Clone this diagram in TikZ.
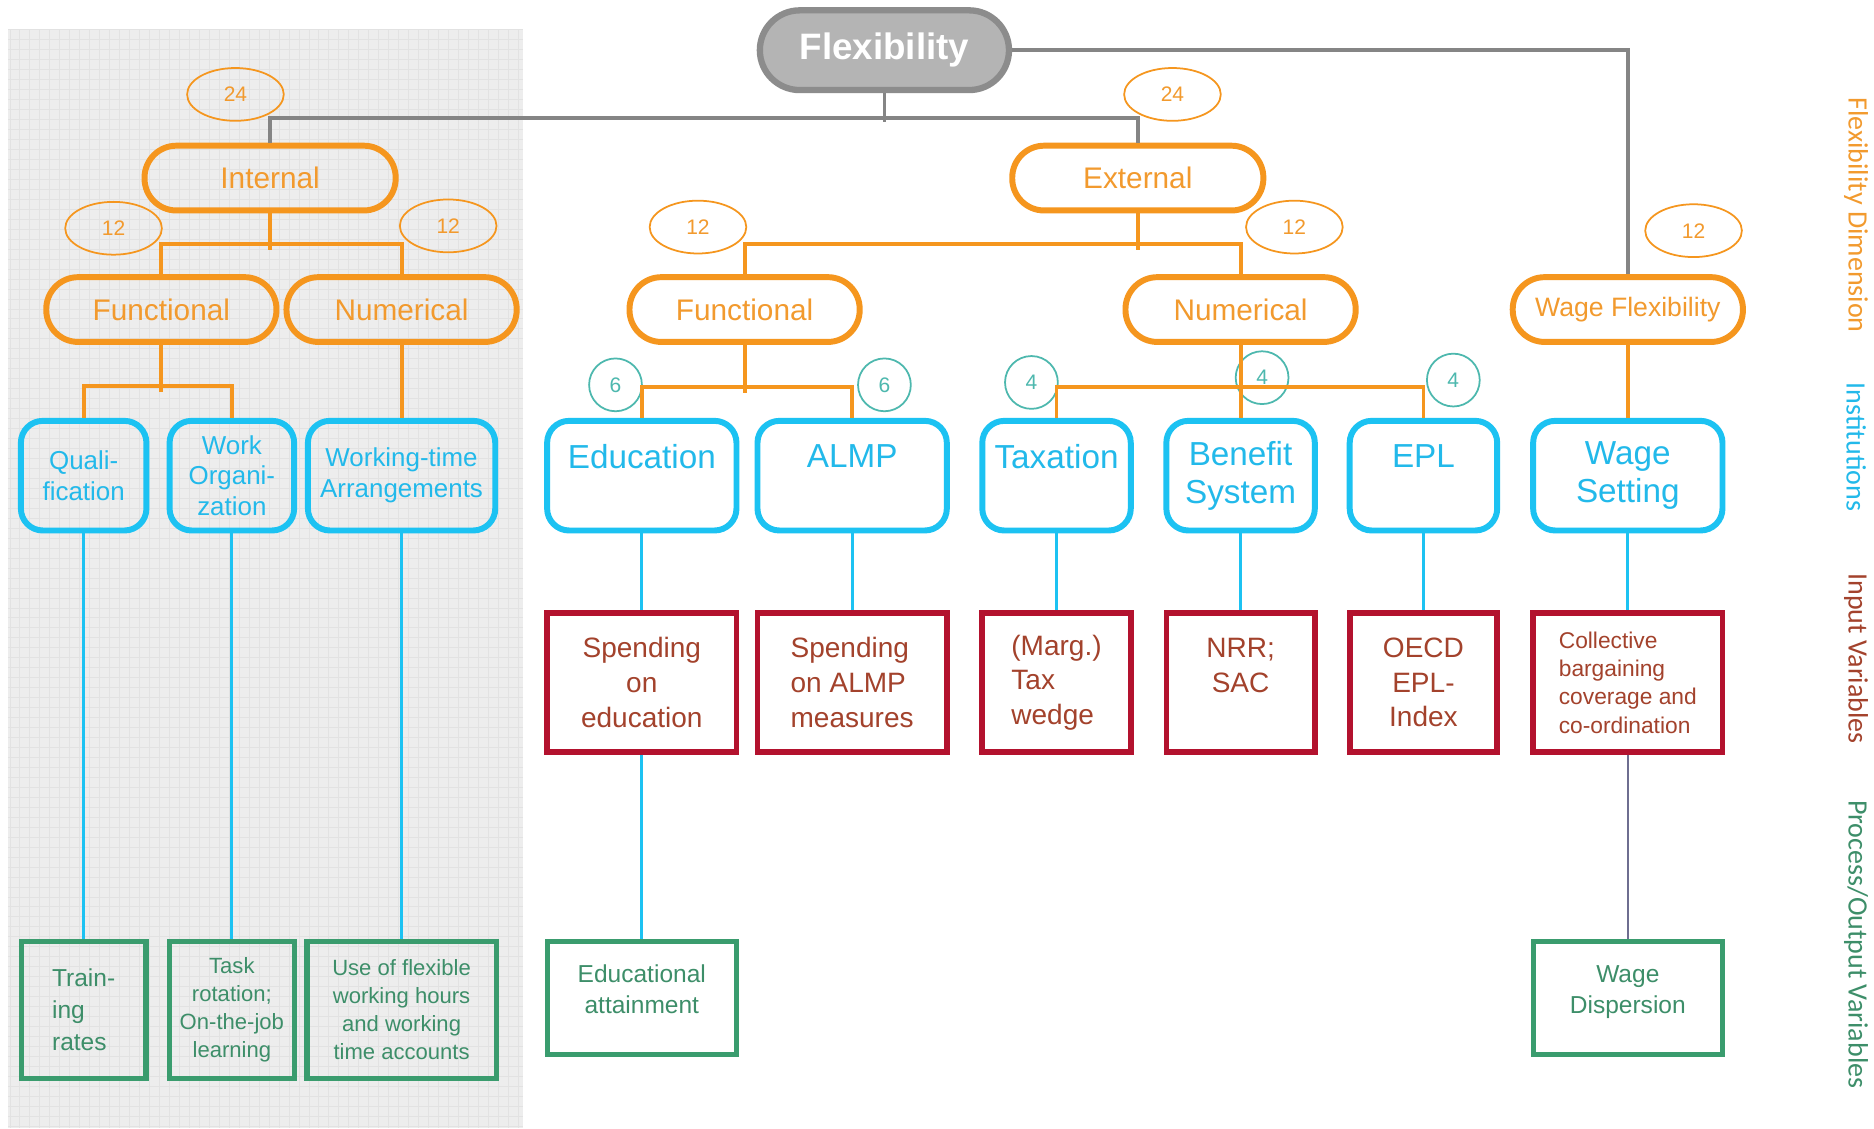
\documentclass[tikz,border=0pt]{standalone}
\usepackage{fontspec}
\setmainfont{Liberation Sans}
\newfontfamily\sidefont{Carlito}
\usetikzlibrary{positioning,shapes.geometric}

\definecolor{dimorange}{HTML}{F5961E}
\definecolor{dimtext}{HTML}{F29A2E}
\definecolor{instblue}{HTML}{1CC2F2}
\definecolor{insttext}{HTML}{22B9EA}
\definecolor{inpred}{HTML}{B3122E}
\definecolor{inptext}{HTML}{A3422C}
\definecolor{outgreen}{HTML}{3A9C6E}
\definecolor{outtext}{HTML}{3D8E69}
\definecolor{weightteal}{HTML}{4DB8AE}
\definecolor{rootfill}{HTML}{B4B4B4}
\definecolor{rootdraw}{HTML}{8C8C8C}
\definecolor{rootline}{HTML}{858585}
\definecolor{procline}{HTML}{6E6E90}
\definecolor{shadebg}{HTML}{EDEDED}
\definecolor{shadegrid}{HTML}{E2E2E2}

\newcommand{\fsz}[2]{\fontsize{#1}{#2}\selectfont}

\begin{document}
\begin{tikzpicture}[
    x=0.012cm, y=-0.012cm,
    every node/.style={align=center, inner sep=1pt},
    root/.style={draw=rootdraw, fill=rootfill, line width=1.8pt, rounded corners=0.4cm, minimum width=2.5cm, minimum height=0.8cm, text=white, font=\fsz{10.5}{12}\bfseries},
    dimension/.style={draw=dimorange, line width=1.7pt, rounded corners=0.32cm, minimum width=2.31cm, minimum height=0.65cm, text=dimtext, font=\fsz{8.5}{10}},
    institution/.style={draw=instblue, line width=1.7pt, rounded corners=0.22cm, minimum width=1.9cm, minimum height=1.1cm, text=insttext, font=\fsz{9.5}{11}},
    smallinst/.style={institution, font=\fsz{7.4}{8.8}},
    input/.style={draw=inpred, line width=1.6pt, minimum width=1.9cm, minimum height=1.39cm, text=inptext, font=\fsz{8}{9.9}},
    output/.style={draw=outgreen, line width=1.5pt, minimum width=1.9cm, minimum height=1.13cm, text=outtext, font=\fsz{7}{8.8}},
    weight/.style={ellipse, draw=dimorange, line width=0.5pt, minimum width=0.97cm, minimum height=0.53cm, text=dimtext, font=\fsz{6}{7}, inner sep=0pt},
    share/.style={circle, draw=weightteal, line width=0.5pt, minimum size=0.53cm, text=weightteal, font=\fsz{6}{7}, inner sep=0pt},
    side/.style={rotate=-90, font=\sidefont\fsz{8}{9}},
    rootlink/.style={draw=rootline, line width=1.1pt},
    dimlink/.style={draw=dimorange, line width=1.1pt},
    instlink/.style={draw=instblue, line width=0.9pt},
    proclink/.style={draw=procline, line width=0.6pt}
  ]

  \fill[white] (0,0) rectangle (1568,944);
  \useasboundingbox (0,0) rectangle (1568,944);

  % internal flexibility shaded
  \fill[shadebg] (7,25) rectangle (438,944);
  \draw[shadegrid, line width=0.25pt, step=0.1cm] (7,25) grid (438,944);

  % flexibility dimensions
  \node[root] (flex) at (740,42) {Flexibility};
  \node[dimension, minimum width=2.52cm] (internal) at (226,149) {Internal};
  \node[dimension, minimum width=2.52cm] (external) at (952,149) {External};
  \node[dimension] (ifunc) at (135,259) {Functional};
  \node[dimension] (inum) at (336,259) {Numerical};
  \node[dimension] (efunc) at (623,259) {Functional};
  \node[dimension] (enum) at (1038,259) {Numerical};
  \node[dimension, font=\fsz{7.6}{9}] (wage) at (1362,259) {Wage Flexibility};

  % institutions
  \node[smallinst, minimum width=1.26cm] (qual) at (70,398) {Quali-\\fication};
  \node[smallinst, minimum width=1.25cm] (work) at (194,398) {Work\\Organi-\\zation};
  \node[smallinst, minimum width=1.88cm] (wtime) at (336,398) {Working-time\\Arrangements};
  \node[institution] (edu) at (537,398) {Education\\\mbox{}};
  \node[institution] (almp) at (713,398) {ALMP\\\mbox{}};
  \node[institution, minimum width=1.49cm] (tax) at (884,398) {Taxation\\\mbox{}};
  \node[institution, minimum width=1.49cm] (benefit) at (1038,398) {Benefit\\System};
  \node[institution, minimum width=1.48cm] (epl) at (1191,398) {EPL\\\mbox{}};
  \node[institution] (wset) at (1362,398) {Wage\\Setting};

  % input variables
  \node[input] (spedu) at (537,571) {Spending\\on\\education};
  \node[input, align=left] (spalmp) at (713,571) {Spending\\on ALMP\\measures};
  \node[input, minimum width=1.49cm, align=left] (taxw) at (884,571) {(Marg.)\\Tax\\wedge};
  \node[input, minimum width=1.49cm] (nrr) at (1038,571) {NRR;\\SAC\\\mbox{}};
  \node[input, minimum width=1.48cm] (oecd) at (1191,571) {OECD\\EPL-\\Index};
  \node[input, align=left, font=\fsz{6.5}{8.1}] (coll) at (1362,571) {Collective\\bargaining\\coverage and\\co-ordination};

  % process/output variables
  \node[output, minimum width=1.25cm, minimum height=1.38cm, align=left, font=\fsz{7}{9.2}] (train) at (70,845) {Train-\\ing\\rates};
  \node[output, minimum width=1.25cm, minimum height=1.38cm, font=\fsz{6.3}{8}] (task) at (194,845) {Task\\rotation;\\On-the-job\\learning};
  \node[output, minimum height=1.38cm, font=\fsz{6.3}{8}] (flexuse) at (336,845) {Use of flexible\\working hours\\and working\\time accounts};
  \node[output, text depth=5pt] (eduatt) at (537,835) {Educational\\attainment};
  \node[output, text depth=5pt] (wdisp) at (1362,835) {Wage\\Dispersion};

  % weights
  \node[weight] (w24i) at (197,79) {24};
  \node[weight] (w24e) at (981,79) {24};
  \node[weight] (w12if) at (95,191) {12};
  \node[weight] (w12in) at (375,189) {12};
  \node[weight] (w12ef) at (584,190) {12};
  \node[weight] (w12en) at (1083,190) {12};
  \node[weight] (w12w) at (1417,193) {12};
  \node[share] (s6edu) at (515,322) {6};
  \node[share] (s6almp) at (740,322) {6};
  \node[share] (s4tax) at (863,320) {4};
  \node[share] (s4ben) at (1056,316) {4};
  \node[share] (s4epl) at (1216,318) {4};

  % connectors
  \draw[rootlink] (flex.east) -| (wage.north);
  \draw[rootlink] (flex.south) -- ++(0,24);
  \draw[rootlink] (internal.north) -- ++(0,-21) -| (external.north);

  \draw[dimlink] (internal.south) -- ++(0,31);
  \draw[dimlink] (ifunc.north) -- ++(0,-25) -| (inum.north);
  \draw[dimlink] (external.south) -- ++(0,31);
  \draw[dimlink] (efunc.north) -- ++(0,-25) -| (enum.north);
  \draw[dimlink] (ifunc.south) -- ++(0,39);
  \draw[dimlink] (qual.north) -- ++(0,-27) -| (work.north);
  \draw[dimlink] (inum.south) -- (wtime.north);
  \draw[dimlink] (efunc.south) -- ++(0,40);
  \draw[dimlink] (edu.north) -- ++(0,-26) -| (almp.north);
  \draw[dimlink] (tax.north) -- ++(0,-26) -| (epl.north);
  \draw[dimlink] (enum.south) -- (benefit.north);
  \draw[dimlink] (wage.south) -- (wset.north);

  \draw[instlink] (qual) -- (train);
  \draw[instlink] (work) -- (task);
  \draw[instlink] (wtime) -- (flexuse);
  \draw[instlink] (edu) -- (spedu);
  \draw[instlink] (almp) -- (spalmp);
  \draw[instlink] (tax) -- (taxw);
  \draw[instlink] (benefit) -- (nrr);
  \draw[instlink] (epl) -- (oecd);
  \draw[instlink] (wset) -- (coll);
  \draw[instlink] (spedu) -- (eduatt);
  \draw[proclink] (coll) -- (wdisp);

  % level labels
  \node[side, text=dimtext] (sdim) at (1553,180) {Flexibility Dimension};
  \node[side, text=insttext] (sinst) at (1553,374) {Institutions};
  \node[side, text=inptext] (sinp) at (1553,551) {Input Variables};
  \node[side, text=outtext] (sout) at (1553,790) {Process/Output Variables};

\end{tikzpicture}
\end{document}
